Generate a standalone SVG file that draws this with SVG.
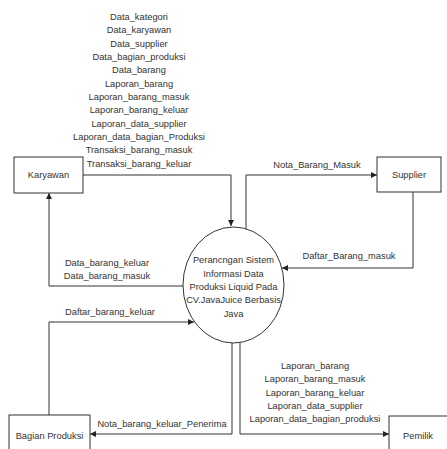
<svg xmlns="http://www.w3.org/2000/svg" width="447" height="449" viewBox="0 0 447 449">
<defs>
<style>
.box{fill:#fff;stroke:#333;stroke-width:1}
.ell{fill:#fff;stroke:#333;stroke-width:1}
.ln{fill:none;stroke:#333;stroke-width:1}
text{font-family:"Liberation Sans",Arial,sans-serif;font-size:9.3px;fill:#333}
.c{text-anchor:middle}
</style>
<marker id="arr" markerWidth="7" markerHeight="7" refX="6" refY="3.5" orient="auto" markerUnits="userSpaceOnUse">
<path d="M0,0.5 L6,3.5 L0,6.5 Z" fill="#222"/>
</marker>
</defs>
<rect width="447" height="449" fill="#fff"/>
<g id="connectors">
<path class="ln" d="M83,175 H231 V226" marker-end="url(#arr)"/>
<path class="ln" d="M246,229 V175 H377" marker-end="url(#arr)"/>
<path class="ln" d="M413,192 V268 H282" marker-end="url(#arr)"/>
<path class="ln" d="M183,286 H49 V193" marker-end="url(#arr)"/>
<path class="ln" d="M49,415 V322 H194" marker-end="url(#arr)"/>
<path class="ln" d="M232,343 V434 H90" marker-end="url(#arr)"/>
<path class="ln" d="M240,342 V434 H389" marker-end="url(#arr)"/>
</g>
<g id="labels">
<text class="c" x="139" y="20"><tspan x="139">Data_kategori</tspan><tspan x="139" dy="13.33">Data_karyawan</tspan><tspan x="139" dy="13.33">Data_supplier</tspan><tspan x="139" dy="13.33">Data_bagian_produksi</tspan><tspan x="139" dy="13.33">Data_barang</tspan><tspan x="139" dy="13.33">Laporan_barang</tspan><tspan x="139" dy="13.33">Laporan_barang_masuk</tspan><tspan x="139" dy="13.33">Laporan_barang_keluar</tspan><tspan x="139" dy="13.33">Laporan_data_supplier</tspan><tspan x="139" dy="13.33">Laporan_data_bagian_Produksi</tspan><tspan x="139" dy="13.33">Transaksi_barang_masuk</tspan><tspan x="139" dy="13.33">Transaksi_barang_keluar</tspan></text>
<text class="c" x="317" y="168.3">Nota_Barang_Masuk</text>
<text class="c" x="349" y="259.3">Daftar_Barang_masuk</text>
<text class="c" x="107" y="266.3"><tspan x="107">Data_barang_keluar</tspan><tspan x="107" dy="13">Data_barang_masuk</tspan></text>
<text class="c" x="110" y="315.3">Daftar_barang_keluar</text>
<text class="c" x="162" y="427.3">Nota_barang_keluar_Penerima</text>
<text class="c" x="315" y="369.3"><tspan x="315">Laporan_barang</tspan><tspan x="315" dy="13.1">Laporan_barang_masuk</tspan><tspan x="315" dy="13.1">Laporan_barang_keluar</tspan><tspan x="315" dy="13.1">Laporan_data_supplier</tspan><tspan x="315" dy="13.1">Laporan_data_bagian_produksi</tspan></text>
</g>
<g id="karyawan">
<rect class="box" x="14" y="157" width="69" height="36"/>
<text class="c" x="48.5" y="178.3">Karyawan</text>
</g>
<g id="supplier">
<rect class="box" x="377" y="157" width="64" height="35"/>
<text class="c" x="409" y="178.3">Supplier</text>
</g>
<g id="proses">
<ellipse class="ell" cx="233.5" cy="285" rx="50.5" ry="58"/>
<text class="c" x="233.5" y="263.3"><tspan x="233.5">Perancngan Sistem</tspan><tspan x="233.5" dy="13.3">Informasi Data</tspan><tspan x="233.5" dy="13.3">Produksi Liquid Pada</tspan><tspan x="233.5" dy="13.3">CV.JavaJuice Berbasis</tspan><tspan x="233.5" dy="13.3">Java</tspan></text>
</g>
<g id="bagian-produksi">
<rect class="box" x="9" y="415" width="81" height="44"/>
<text class="c" x="49.5" y="439.3">Bagian Produksi</text>
</g>
<g id="pemilik">
<rect class="box" x="389" y="416" width="64" height="44"/>
<text class="c" x="418" y="439.3">Pemilik</text>
</g>
</svg>
